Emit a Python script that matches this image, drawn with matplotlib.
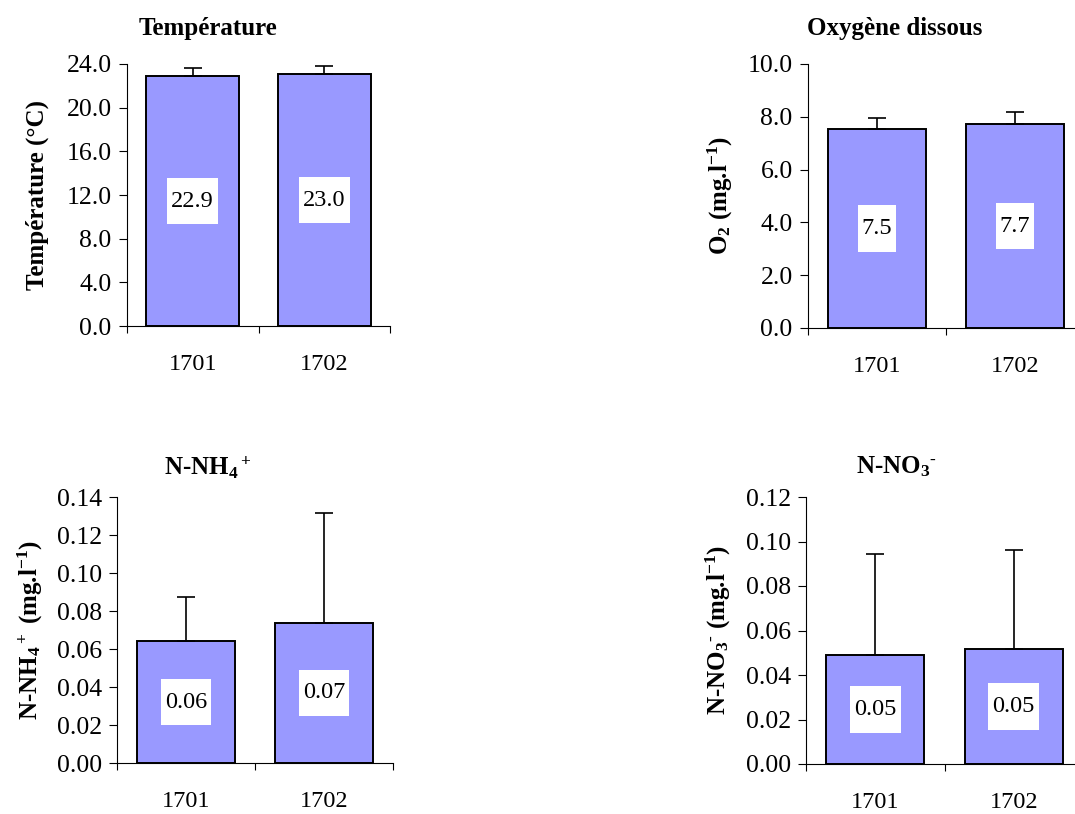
import matplotlib
matplotlib.use("Agg")
import matplotlib.pyplot as plt
from matplotlib.path import Path
from matplotlib.ticker import FormatStrFormatter, FixedLocator

plt.rcParams['font.family'] = 'Liberation Serif'
plt.rcParams['mathtext.fontset'] = 'custom'
plt.rcParams['mathtext.rm'] = 'Liberation Serif:bold'
plt.rcParams['mathtext.it'] = 'Liberation Serif:bold'
plt.rcParams['mathtext.bf'] = 'Liberation Serif:bold'
plt.rcParams['mathtext.default'] = 'rm'

# data
stations = ["1701", "1702"]

temp_mean = [22.9, 23.04]
temp_sd = [0.70, 0.76]

o2_mean = [7.54, 7.72]
o2_sd = [0.41, 0.46]

nh4_mean = [0.0642, 0.0737]
nh4_sd = [0.0234, 0.0581]

no3_mean = [0.0491, 0.0518]
no3_sd = [0.0451, 0.0443]

BAR_COLOR = "#9999FF"


def label_box(x0, y0, width, height, mutation_size):
    # white box around the data label, more vertical padding (Excel style)
    px = 0.17 * mutation_size
    py = 0.52 * mutation_size
    x1, y1 = x0 - px, y0 - py
    x2, y2 = x0 + width + px, y0 + height + py
    return Path([(x1, y1), (x2, y1), (x2, y2), (x1, y2), (x1, y1)],
                [Path.MOVETO, Path.LINETO, Path.LINETO, Path.LINETO, Path.CLOSEPOLY])


def draw_panel(ax, means, sds, ymax, ystep, tickfmt, labelfmt, ylabel):
    x = list(range(len(stations)))
    ax.bar(x, means, width=0.71, color=BAR_COLOR, edgecolor="black", linewidth=1.4, zorder=2)
    ax.errorbar(x, means, yerr=[[0] * len(sds), sds], fmt="none", ecolor="black",
                elinewidth=1.2, capsize=6.5, capthick=1.2, zorder=3)
    for xi, m in zip(x, means):
        ax.text(xi, m / 2, labelfmt % m, ha="center", va="center", fontsize=17.5,
                bbox=dict(boxstyle=label_box, fc="white", ec="none"), zorder=4)

    ax.set_xlim(-0.5, len(stations) - 0.5)
    ax.set_ylim(0, ymax)
    n = int(round(ymax / ystep))
    ax.set_yticks([i * ystep for i in range(n + 1)])
    ax.yaxis.set_major_formatter(FormatStrFormatter(tickfmt))
    ax.set_xticks(x)
    ax.set_xticklabels(stations)
    ax.xaxis.set_minor_locator(FixedLocator([i - 0.5 for i in range(len(stations) + 1)]))

    ax.tick_params(axis="x", which="major", length=0, pad=20, labelsize=17.5)
    ax.tick_params(axis="x", which="minor", length=5, width=0.8, direction="out")
    ax.tick_params(axis="y", length=6, width=0.8, pad=5, labelsize=18.5)

    for side in ["top", "right"]:
        ax.spines[side].set_visible(False)
    for side in ["left", "bottom"]:
        ax.spines[side].set_linewidth(0.8)
    ax.set_ylabel(ylabel, fontsize=18, fontweight="bold")


fig = plt.figure(figsize=(10.75, 8.14), dpi=100)
W, H = 1075.0, 814.0


def axes_px(left, top, right, bottom):
    return fig.add_axes([left / W, (H - bottom) / H, (right - left) / W, (bottom - top) / H])


ax1 = axes_px(127, 64, 390, 326)
ax2 = axes_px(808, 64, 1084, 328)
ax3 = axes_px(117, 497, 393, 763)
ax4 = axes_px(806, 497, 1083, 764)

draw_panel(ax1, temp_mean, temp_sd, 24.0, 4.0, "%.1f", "%.1f", "Température (°C)")
draw_panel(ax2, o2_mean, o2_sd, 10.0, 2.0, "%.1f", "%.1f", r"O$_2$ (mg.l$^{-1}$)")
draw_panel(ax3, nh4_mean, nh4_sd, 0.14, 0.02, "%.2f", "%.2f", "N-NH$_4$$^+$ (mg.l$^{-1}$)")
draw_panel(ax4, no3_mean, no3_sd, 0.12, 0.02, "%.2f", "%.2f", "N-NO$_3$$^{\u2010}$ (mg.l$^{-1}$)")

ax1.yaxis.set_label_coords(-0.295, 0.5)
ax2.yaxis.set_label_coords(-0.266, 0.5)
ax3.yaxis.set_label_coords(-0.26, 0.5)
ax4.yaxis.set_label_coords(-0.265, 0.5)

titles = ["Température", "Oxygène dissous", "N-NH$_4$$^+$", "N-NO$_3$$^{\u2010}$"]
title_pos = [(208, 28), (895, 28), (208, 468), (896, 467)]
for t, (tx, ty) in zip(titles, title_pos):
    fig.text(tx / W, (H - ty) / H, t, ha="center", va="center", fontsize=18, fontweight="bold")

fig.savefig("out.png", dpi=100)
